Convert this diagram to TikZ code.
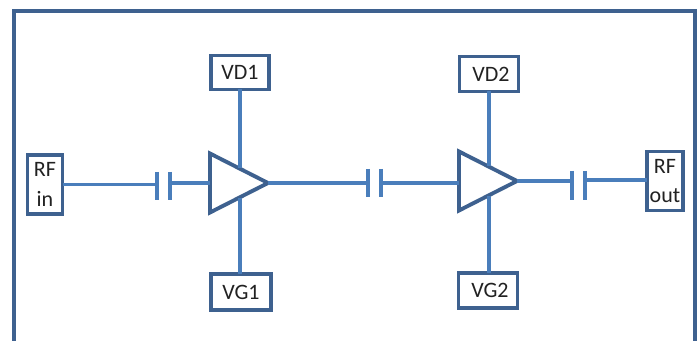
\documentclass[tikz,border=0pt]{standalone}
\usepackage{fontspec}
\setmainfont{Carlito}
\usetikzlibrary{shapes.geometric}
\definecolor{edgeblue}{HTML}{3E618F}
\definecolor{wireblue}{HTML}{4A7EBB}
\definecolor{inkgrey}{HTML}{222222}
\tikzset{
  lab/.style={draw=edgeblue,line width=2.7pt,fill=white,inner sep=0pt,outer sep=0pt,align=center,text=inkgrey,font=\fontsize{16.5pt}{22pt}\selectfont},
  amp/.style={draw=edgeblue,line width=2.9pt,fill=white,shape=isosceles triangle,isosceles triangle stretches,shape border rotate=0,inner sep=0pt,outer sep=0pt,minimum width=59*0.75pt,minimum height=58*0.75pt,anchor=lower side},
  wire/.style={draw=wireblue,line width=2.8pt},
  plate/.style={draw=wireblue,line width=2.8pt},
  frameline/.style={draw=edgeblue,line width=2.8pt,line join=miter}
}
\begin{document}
\begin{tikzpicture}[x=0.75pt,y=-0.75pt]
\useasboundingbox (0,0) rectangle (698,341);
\fill[white] (0,0) rectangle (698,341);
\coordinate (fa) at (14,341);
\coordinate (fb) at (14,11);
\coordinate (fc) at (695,11);
\coordinate (fd) at (695,341);
\draw[frameline] (fa) -- (fb) -- (fc) -- (fd);
% capacitor plates
\coordinate (c1at) at (157,172); \coordinate (c1ab) at (157,200);
\coordinate (c1bt) at (170,172); \coordinate (c1bb) at (170,200);
\coordinate (c2at) at (368,169); \coordinate (c2ab) at (368,197);
\coordinate (c2bt) at (381,169); \coordinate (c2bb) at (381,197);
\coordinate (c3at) at (572,171); \coordinate (c3ab) at (572,200);
\coordinate (c3bt) at (585,171); \coordinate (c3bb) at (585,200);
\coordinate (c1a) at (157,184.5); \coordinate (c1b) at (170,183);
\coordinate (c2a) at (368,183); \coordinate (c2b) at (381,183);
\coordinate (c3a) at (572,181); \coordinate (c3b) at (585,180);
% amplifiers
\node[amp] (a1) at (210,183) {};
\node[amp] (a2) at (459,181) {};
% boxes
\node[lab,minimum width=58*0.75pt,minimum height=34*0.75pt] (vd1) at (240,72.5) {VD1};
\node[lab,minimum width=60*0.75pt,minimum height=36*0.75pt] (vg1) at (241,292) {VG1};
\node[lab,minimum width=59*0.75pt,minimum height=35*0.75pt] (vd2) at (489,74) {\hspace*{3pt}VD2};
\node[lab,minimum width=59*0.75pt,minimum height=35*0.75pt] (vg2) at (488,290.5) {\hspace*{3pt}VG2};
\node[lab,minimum width=35*0.75pt,minimum height=59*0.75pt] (rfin) at (45,184.5) {RF\\in};
\node[lab,minimum width=36*0.75pt,minimum height=59*0.75pt] (rfout) at (665,181) {RF\\out};
% connectors
\draw[wire] (rfin.east |- c1a) -- (c1a);
\draw[wire] (c1b) -- (a1.lower side |- c1b);
\draw[wire] (a1.apex) -- (c2a);
\draw[wire] (c2b) -- (a2.lower side |- c2b);
\draw[wire] (a2.apex) -- (c3a);
\draw[wire] (c3b) -- (rfout.west |- c3b);
\draw[wire] (vd1.south) -- (vd1.south |- a1.left side);
\draw[wire] (vg1.north -| vd1.south) -- (vd1.south |- a1.right side);
\draw[wire] (vd2.south) -- (vd2.south |- a2.left side);
\draw[wire] (vg2.north -| vd2.south) -- (vd2.south |- a2.right side);
\draw[plate] (c1at) -- (c1ab);
\draw[plate] (c1bt) -- (c1bb);
\draw[plate] (c2at) -- (c2ab);
\draw[plate] (c2bt) -- (c2bb);
\draw[plate] (c3at) -- (c3ab);
\draw[plate] (c3bt) -- (c3bb);
\end{tikzpicture}
\end{document}
